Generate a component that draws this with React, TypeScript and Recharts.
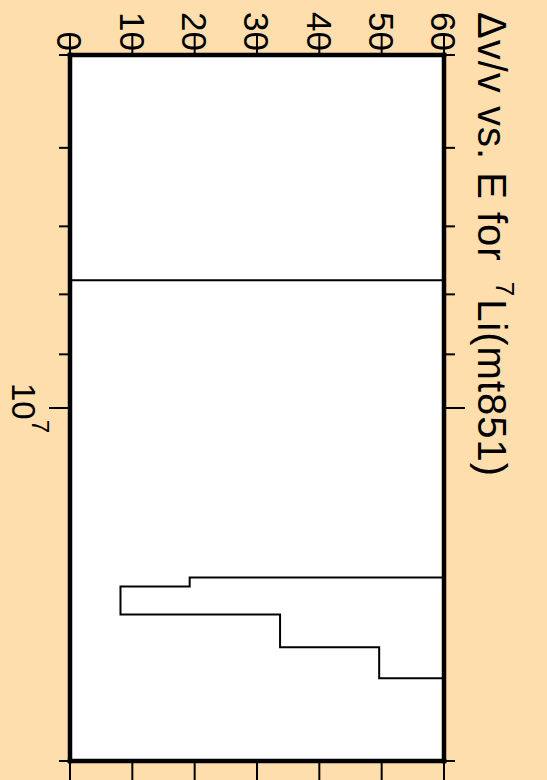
import React from 'react';
import { LineChart, Line, XAxis, YAxis, CartesianGrid } from 'recharts';

// Histogram bin edges (neutron energy, eV) and Δv/v values for each bin
const binEdges = [5e6, 7.78e6, 1.395e7, 1.42e7, 1.5e7, 1.6e7, 1.7e7, 2e7];
const binValues = [0, 100, 19.2, 8.1, 33.7, 49.6, 100];
const valueTicks = [0, 10, 20, 30, 40, 50, 60];
const energyTicks = [5e6, 6e6, 7e6, 8e6, 9e6, 1e7, 2e7];
const majorEnergyTicks = [1e7];

const stepData = binValues.flatMap((v, i) => [
  { e: binEdges[i], v },
  { e: binEdges[i + 1], v },
]);

const FONT = '"Liberation Sans", Arial, Helvetica, sans-serif';
const BG = '#FFDEAD';

const TopTick = (props: any) => {
  const { x, y, payload } = props;
  return (
    <g>
      <line x1={x} y1={y} x2={x} y2={y - 20} stroke="#000" strokeWidth={2} />
      <text
        transform={`translate(${x},${y - 4}) rotate(90)`}
        textAnchor="end"
        dy="0.36em"
        fontSize={35}
        fontFamily={FONT}
        fill="#000"
      >
        {payload.value}
      </text>
    </g>
  );
};

const BottomTick = (props: any) => {
  const { x, y } = props;
  return <line x1={x} y1={y} x2={x} y2={y + 22} stroke="#000" strokeWidth={2} />;
};

const LeftTick = (props: any) => {
  const { x, y, payload } = props;
  const major = majorEnergyTicks.includes(payload.value);
  return (
    <g>
      <line x1={x} y1={y} x2={x - (major ? 21 : 11)} y2={y} stroke="#000" strokeWidth={2} />
      {major && (
        <text
          transform={`translate(12,${y}) rotate(90)`}
          textAnchor="middle"
          fontSize={33}
          fontFamily={FONT}
          fill="#000"
        >
          <tspan>10</tspan>
          <tspan fontSize={24} dy={-20}>7</tspan>
        </text>
      )}
    </g>
  );
};

const RightTick = (props: any) => {
  const { x, y, payload } = props;
  const major = majorEnergyTicks.includes(payload.value);
  return <line x1={x} y1={y} x2={x + (major ? 21 : 11)} y2={y} stroke="#000" strokeWidth={2} />;
};

const Title = () => (
  <text
    transform="translate(478,12) rotate(90)"
    fontSize={40}
    letterSpacing={1}
    fontFamily={FONT}
    fill="#000"
  >
    <tspan>Δv/v vs. E for</tspan>
    <tspan fontSize={26} dx={20} dy={-18}>7</tspan>
    <tspan dx={2} dy={18}>Li(mt851)</tspan>
  </text>
);

const axisLineStyle = { stroke: '#000', strokeWidth: 4.5, strokeLinecap: 'square' as const };

export default function App() {
  return (
    <div style={{ position: 'absolute', left: 0, top: 0, width: 547, height: 780, background: BG, overflow: 'hidden' }}>
      <LineChart
        width={547}
        height={780}
        layout="vertical"
        data={stepData}
        margin={{ top: 0, right: 0, bottom: 0, left: 0 }}
      >
        <CartesianGrid fill="#fff" horizontal={false} vertical={false} />
        <XAxis
          xAxisId="top"
          type="number"
          dataKey="v"
          orientation="top"
          height={55}
          domain={[0, 60]}
          allowDataOverflow
          ticks={valueTicks}
          interval={0}
          tickSize={0}
          tickMargin={0}
          tickLine={false}
          axisLine={axisLineStyle}
          tick={<TopTick />}
        />
        <XAxis
          xAxisId="bottom"
          type="number"
          dataKey="v"
          orientation="bottom"
          height={19}
          domain={[0, 60]}
          allowDataOverflow
          ticks={valueTicks}
          interval={0}
          tickSize={0}
          tickMargin={0}
          tickLine={false}
          axisLine={axisLineStyle}
          tick={<BottomTick />}
        />
        <YAxis
          yAxisId="left"
          type="number"
          dataKey="e"
          orientation="left"
          width={70}
          scale="log"
          domain={[5e6, 2e7]}
          allowDataOverflow
          ticks={energyTicks}
          interval={0}
          tickSize={0}
          tickMargin={0}
          tickLine={false}
          axisLine={axisLineStyle}
          tick={<LeftTick />}
        />
        <YAxis
          yAxisId="right"
          type="number"
          dataKey="e"
          orientation="right"
          width={103}
          scale="log"
          domain={[5e6, 2e7]}
          allowDataOverflow
          ticks={energyTicks}
          interval={0}
          tickSize={0}
          tickMargin={0}
          tickLine={false}
          axisLine={axisLineStyle}
          tick={<RightTick />}
          label={{ content: () => <Title /> }}
        />
        <Line
          xAxisId="top"
          yAxisId="left"
          dataKey="v"
          type="linear"
          stroke="#000"
          strokeWidth={2}
          dot={false}
          isAnimationActive={false}
        />
      </LineChart>
    </div>
  );
}
